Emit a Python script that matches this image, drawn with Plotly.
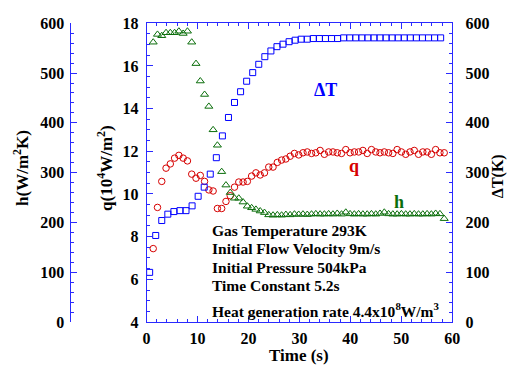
import plotly.graph_objects as go

# ---------------- data ----------------
time_qh = [1.30, 2.14, 2.98, 3.82, 4.66, 5.50, 6.34, 7.18, 8.02, 8.86, 9.70, 10.54,
           11.38, 12.22, 13.06, 13.90, 14.74, 15.58, 16.42, 17.26, 18.10, 18.94, 19.78,
           20.62, 21.46, 22.30, 23.14, 23.98, 24.82, 25.66, 26.50, 27.34, 28.18, 29.02,
           29.86, 30.70, 31.54, 32.38, 33.22, 34.06, 34.90, 35.74, 36.58, 37.42, 38.26,
           39.10, 39.94, 40.78, 41.62, 42.46, 43.30, 44.14, 44.98, 45.82, 46.66, 47.50,
           48.34, 49.18, 50.02, 50.86, 51.70, 52.54, 53.38, 54.22, 55.06, 55.90, 56.74,
           57.58, 58.42]

q_vals = [7.44, 9.37, 10.59, 11.21, 11.41, 11.68, 11.81, 11.68, 11.55, 10.93, 10.74, 10.87,
          10.59, 10.19, 10.14, 9.32, 9.32, 9.65, 9.92, 10.32, 10.56, 10.56, 10.59, 10.84,
          10.99, 10.89, 10.99, 11.26, 11.26, 11.48, 11.59, 11.64, 11.77, 11.90, 11.83, 11.93,
          11.97, 11.90, 11.93, 12.04, 11.86, 11.97, 11.97, 11.93, 11.90, 12.08, 11.93, 11.97,
          11.97, 12.04, 11.90, 12.08, 11.97, 11.93, 11.97, 11.93, 11.90, 12.08, 11.97, 11.86,
          11.97, 12.04, 11.86, 11.97, 11.97, 11.86, 12.08, 11.93, 11.93]

h_vals = [562, 577.6, 575, 581, 581, 581, 584, 579.5, 584, 562, 519, 484, 457, 433, 386,
          355, 302, 275, 260, 248.6, 248.6, 240.9, 232.5, 229.4, 226.2, 222.9, 219.8, 215.2,
          214.5, 215.2, 214.5, 215.8, 215.2, 216.6, 216.0, 216.6, 215.8, 216.6, 217.2, 216.6,
          216.6, 217.2, 216.6, 218.0, 216.6, 220.4, 217.2, 216.6, 217.2, 216.6, 216.6, 217.2,
          216.6, 218.0, 220.4, 217.2, 216.6, 216.6, 217.2, 216.6, 216.6, 217.2, 216.6, 216.6,
          217.2, 216.6, 218.0, 217.2, 207.6]

time_dT = [0.60, 1.79, 2.98, 4.17, 5.36, 6.55, 7.74, 8.93, 10.12, 11.31, 12.50, 13.69,
           14.88, 16.07, 17.26, 18.45, 19.64, 20.83, 22.02, 23.21, 24.40, 25.59, 26.78,
           27.97, 29.16, 30.35, 31.54, 32.73, 33.92, 35.11, 36.30, 37.49, 38.68, 39.87,
           41.06, 42.25, 43.44, 44.63, 45.82, 47.01, 48.20, 49.39, 50.58, 51.77, 52.96,
           54.15, 55.34, 56.53, 57.72]

dT_vals = [99.7, 173.8, 203.8, 216.6, 221.8, 223.7, 223.7, 233.3, 252.5, 270.9, 297.0,
           330.0, 373.8, 410.8, 440.9, 462.5, 483.6, 500.9, 517.6, 532.9, 544.4, 553.0,
           558.0, 563.0, 566.0, 568.0, 568.0, 569.3, 569.3, 569.3, 569.3, 569.3, 570.7,
           570.7, 570.7, 570.7, 570.7, 570.7, 570.7, 570.7, 570.7, 570.7, 570.7, 570.7,
           570.7, 570.7, 570.7, 570.7, 570.7]

x_ticks = [0, 10, 20, 30, 40, 50, 60]
q_ticks = [4, 6, 8, 10, 12, 14, 16, 18]
k_ticks = [0, 100, 200, 300, 400, 500, 600]

info_lines = ["Gas Temperature 293K",
              "Initial Flow Velocity 9m/s",
              "Initial Pressure 504kPa",
              "Time Constant 5.2s",
              "Heat generation rate 4.4x10<sup>8</sup>W/m<sup>3</sup>"]

# ---------------- styling ----------------
W, H = 513, 373
AX = "#2a2aff"
BLUE = "#0000ff"
RED = "#d60000"
GREEN = "#0b6e0b"
FONT = "Liberation Serif, Times New Roman, Times, serif"


def px(x):
    return x / W


def py(y):
    return 1 - y / H


def bold(v):
    return "<b>%s</b>" % v


XD = [px(146), px(459)]
YD = [py(329), py(16)]

fig = go.Figure()
fig.add_trace(go.Scatter(x=time_dT, y=dT_vals, mode="markers", yaxis="y2",
                         marker=dict(symbol="square-open", size=6, color=BLUE,
                                     line=dict(width=1, color=BLUE))))
fig.add_trace(go.Scatter(x=time_qh, y=q_vals, mode="markers", yaxis="y",
                         marker=dict(symbol="circle-open", size=6.5, color=RED,
                                     line=dict(width=1, color=RED))))
fig.add_trace(go.Scatter(x=time_qh, y=h_vals, mode="markers", yaxis="y3",
                         marker=dict(symbol="triangle-up-open", size=7, color=GREEN,
                                     line=dict(width=1, color=GREEN))))

common = dict(showline=True, linecolor=AX, linewidth=1, ticks="inside", ticklen=6,
              tickcolor=AX, tickwidth=1, showgrid=False, zeroline=False,
              tickmode="array", tickfont=dict(family=FONT, size=16, color="black"))

fig.update_layout(
    width=W, height=H,
    margin=dict(l=0, r=0, t=0, b=0),
    paper_bgcolor="white", plot_bgcolor="white",
    showlegend=False,
    font=dict(family=FONT, size=16, color="black"),
    xaxis=dict(domain=XD, range=[0, 60], tickvals=x_ticks, ticktext=[bold(v) for v in x_ticks],
               mirror="ticks", anchor="y", ticklabelstandoff=2,
               minor=dict(dtick=2, tick0=0, ticks="inside", ticklen=3, tickcolor=AX), **common),
    yaxis=dict(domain=YD, range=[4, 18], tickvals=q_ticks, ticktext=[bold(v) for v in q_ticks],
               side="left", anchor="x", ticklabelstandoff=4,
               minor=dict(dtick=0.5, tick0=4, ticks="inside", ticklen=3, tickcolor=AX), **common),
    yaxis2=dict(overlaying="y", side="right", anchor="x", range=[0, 600],
                tickvals=k_ticks, ticktext=[bold(v) for v in k_ticks], ticklabelstandoff=9,
                minor=dict(dtick=20, tick0=0, ticks="inside", ticklen=3, tickcolor=AX), **common),
    yaxis3=dict(overlaying="y", side="left", anchor="free", position=px(68),
                range=[0, 600], tickvals=k_ticks, ticktext=[bold(v) for v in k_ticks],
                ticklabelstandoff=3,
                minor=dict(dtick=20, tick0=0, ticks="inside", ticklen=3, tickcolor=AX), **common),
)

ann = []
# series labels
ann.append(dict(x=px(329), y=py(86), text="ΔT", font=dict(size=18, color=BLUE)))
ann.append(dict(x=px(358), y=py(166), text="q", font=dict(size=18, color=RED)))
ann.append(dict(x=px(404), y=py(203), text="h", font=dict(size=18, color=GREEN)))
# info block
for txt, yc in zip(info_lines, [233.5, 252.5, 271.5, 290.5, 316]):
    ann.append(dict(x=px(211), y=py(yc), text=txt, xanchor="left",
                    font=dict(size=15.5, color="black")))
# axis titles
ann.append(dict(x=px(18), y=py(168), text="h(W/m<sup>2</sup>K)", textangle=-90,
                font=dict(size=17, color="black")))
ann.append(dict(x=px(104), y=py(168), text="q(10<sup>4</sup>W/m<sup>2</sup>)", textangle=-90,
                font=dict(size=17, color="black")))
ann.append(dict(x=px(506), y=py(176), text="ΔT(K)", textangle=-90,
                font=dict(size=16, color="black")))
ann.append(dict(x=px(302.5), y=py(364), text="Time (s)", font=dict(size=17, color="black")))

for a in ann:
    a["text"] = bold(a["text"])
    a.setdefault("xanchor", "center")
    a.setdefault("yanchor", "middle")
    a.update(xref="paper", yref="paper", showarrow=False)
    a["font"]["family"] = FONT
fig.update_layout(annotations=ann)

fig.write_html("out.html")
